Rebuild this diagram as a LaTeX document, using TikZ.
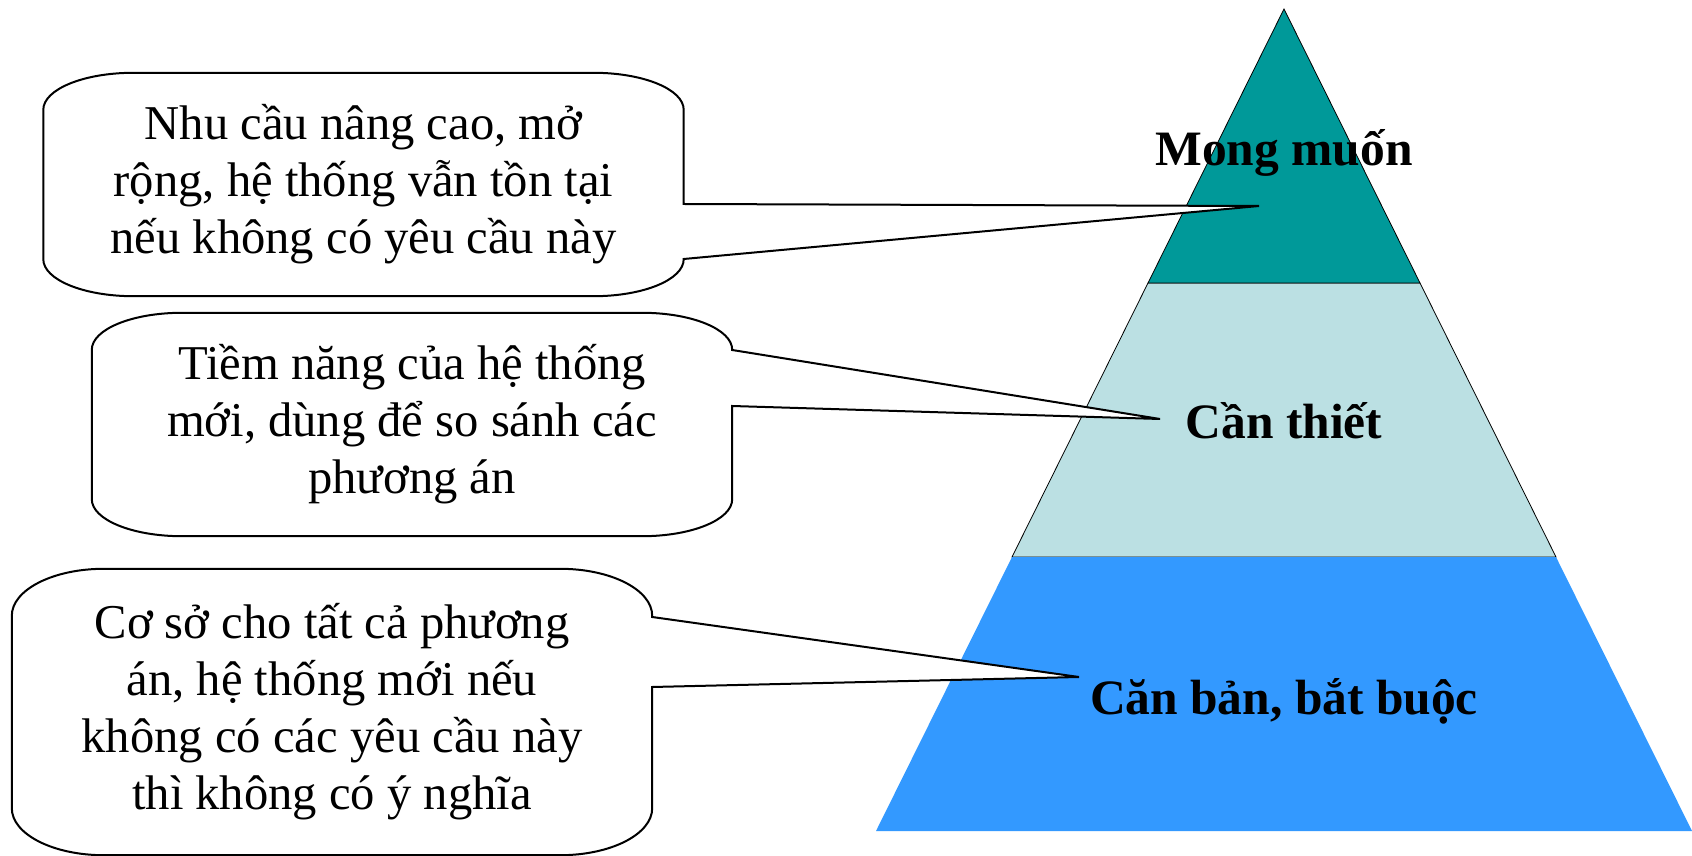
\documentclass[tikz,border=0pt]{standalone}
\usepackage{fontspec}
\setmainfont{Liberation Serif}
\usepackage{tikz}
\usetikzlibrary{
  calc,
  backgrounds,
  positioning
}
\definecolor{mytop}{RGB}{0,153,153}
\definecolor{mymid}{RGB}{187,224,227}
\definecolor{mybase}{RGB}{51,153,255}
\newcommand{\bubblepath}[6]{%
  \draw[bubbleline]
    ($(#1.north west)+(0,-#6)$)
    arc[start angle=180, end angle=90, x radius=#5, y radius=#6]
    -- ($(#1.north east)+(-#5,0)$)
    arc[start angle=90, end angle=0, x radius=#5, y radius=#6]
    -- ($(#1.east)+(0,#3)$) -- (#2) -- ($(#1.east)+(0,#4)$)
    -- ($(#1.south east)+(0,#6)$)
    arc[start angle=0, end angle=-90, x radius=#5, y radius=#6]
    -- ($(#1.south west)+(#5,0)$)
    arc[start angle=270, end angle=180, x radius=#5, y radius=#6]
    -- cycle;}

\begin{document}
\begin{tikzpicture}[
  x=1pt,
  y=1pt,
  bubbletext/.style={
    align=center,
    inner sep=0pt,
    minimum width=640pt,
    font=\fontsize{48.6}{57}\selectfont
    },
  bubbleline/.style={
    draw,
    fill=white,
    line width=2pt
    },
  layerlabel/.style={
    anchor=base,
    font=\fontsize{49.5}{57}\selectfont\bfseries
    },
  pyrline/.style={
    draw=black,
    line width=0.8pt
    }
]
\useasboundingbox (0,0) rectangle (1692,855);
\node[bubbletext,minimum height=223pt]
  (wishbox) at (363.5,670.5)
  {Nhu cầu nâng cao, mở\\rộng, hệ thống vẫn tồn tại\\nếu không có yêu cầu này};
\node[bubbletext,minimum height=223pt]
  (needbox) at (412,430.5)
  {Tiềm năng của hệ thống\\mới, dùng để so sánh các\\phương án};
\node[bubbletext,minimum height=286pt]
  (mustbox) at (332,143)
  {Cơ sở cho tất cả phương\\án, hệ thống mới nếu\\không có các yêu cầu này\\thì không có ý nghĩa};
\node[layerlabel] (wish) at (1284,689) {Mong muốn};
\node[layerlabel] (need) at (1284,416) {Cần thiết};
\node[layerlabel] (must) at (1284,141) {Căn bản, bắt buộc};
\coordinate (wishtip) at (1259,649);
\coordinate (needtip) at (1160,436);
\coordinate (musttip) at (1079,178);
\begin{scope}[on background layer]
  \path[pyrline,fill=mymid] (1148,572) -- (1420,572) -- (1556,298) -- (1012,298) -- cycle;
  \fill[mybase] (1012,298) -- (1556,298) -- (1692,24) -- (876,24) -- cycle;
  \path[pyrline,fill=mytop] (1284,846) -- (1420,572) -- (1148,572) -- cycle;
  \bubblepath{wishbox}{wishtip}{-19.5pt}{-74.5pt}{90pt}{37pt}
  \bubblepath{needbox}{needtip}{74.5pt}{18.5pt}{90pt}{37pt}
  \bubblepath{mustbox}{musttip}{95pt}{25pt}{92pt}{47pt}
\end{scope}
\end{tikzpicture}
\end{document}
